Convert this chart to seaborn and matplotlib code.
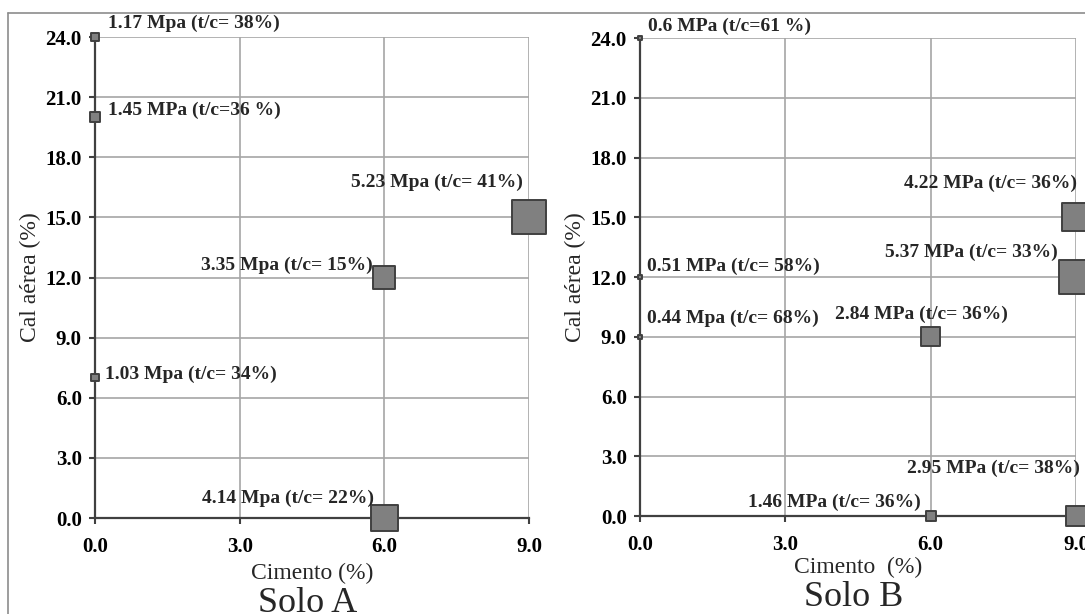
import matplotlib
matplotlib.use("Agg")
import matplotlib.pyplot as plt
import seaborn as sns
import pandas as pd
from matplotlib.lines import Line2D

# ---------------- data ----------------
x_ticks = [0, 3, 6, 9]
y_ticks = [0, 3, 6, 9, 12, 15, 18, 21, 24]

solo_a_cimento = [0, 0, 0, 6, 6, 9]
solo_a_cal = [24, 20, 7, 12, 0, 15]
solo_a_mpa = [1.17, 1.45, 1.03, 3.35, 4.14, 5.23]
solo_a_labels = ["1.17 Mpa (t/c= 38%)", "1.45 MPa (t/c=36 %)", "1.03 Mpa (t/c= 34%)",
                 "3.35 Mpa (t/c= 15%)", "4.14 Mpa (t/c= 22%)", "5.23 Mpa (t/c= 41%)"]

solo_b_cimento = [0, 0, 0, 6, 6, 9, 9, 9]
solo_b_cal = [24, 12, 9, 9, 0, 0, 15, 12]
solo_b_mpa = [0.6, 0.51, 0.44, 2.84, 1.46, 2.95, 4.22, 5.37]
solo_b_labels = ["0.6 MPa (t/c=61 %)", "0.51 MPa (t/c= 58%)", "0.44 Mpa (t/c= 68%)",
                 "2.84 MPa (t/c= 36%)", "1.46 MPa (t/c= 36%)", "2.95 MPa (t/c= 38%)",
                 "4.22 MPa (t/c= 36%)", "5.37 MPa (t/c= 33%)"]

x_label = "Cimento (%)"
x_label_b = "Cimento  (%)"
y_label = "Cal aérea (%)"
titles = ["Solo A", "Solo B"]

# ---------------- layout / style ----------------
# label offsets in pixels (dx, dy, ha)
offs_a = [(13, 14, "left"), (13, 7, "left"), (10, 3, "left"),
          (-12, 12, "right"), (-10, 20, "right"), (-6, 35, "right")]
offs_b = [(8, 12, "left"), (7, 11, "left"), (7, 18, "left"),
          (-9, 22, "center"), (-10, 14, "right"), (4, 48, "right"),
          (1, 34, "right"), (-18, 25, "right")]

sns.set_theme(style="white")
plt.rcParams["font.family"] = ["Liberation Serif", "DejaVu Serif"]

W, H = 1085, 614
fig = plt.figure(figsize=(W / 100, H / 100), dpi=100)

def px_rect(x0, x9, y0, y24):
    return [x0 / W, (H - y0) / H, (x9 - x0) / W, (y0 - y24) / H]

ax_a = fig.add_axes(px_rect(95, 529, 518, 37))
ax_b = fig.add_axes(px_rect(640, 1076, 516, 38))

K = 4.55      # marker side (pt) per MPa
K0 = 0.6      # side offset (pt)
EDGE_LW = 1.4
grid_c = "#a6a6a6"
axis_c = "#404040"

def panel(ax, xs, ys, mpa, labels, offs, xlab, title, xlab_y):
    df = pd.DataFrame({"x": xs, "y": ys, "mpa": mpa})
    sizes = {v: (K * v + K0) ** 2 for v in mpa}
    sns.scatterplot(data=df, x="x", y="y", size="mpa", sizes=sizes, marker="s",
                    color="#808080", edgecolor=axis_c, linewidth=EDGE_LW,
                    legend=False, ax=ax, clip_on=False, zorder=5)
    ax.set_xlim(0, 9)
    ax.set_ylim(0, 24)
    ax.set_xticks(x_ticks)
    ax.set_xticklabels([f"{v:.1f}" for v in x_ticks], fontweight="bold", fontsize=15)
    ax.set_yticks(y_ticks)
    ax.set_yticklabels([f"{v:.1f}" for v in y_ticks], fontweight="bold", fontsize=15)
    ax.grid(True, color=grid_c, lw=1.2)
    ax.set_axisbelow(True)
    for s in ["top", "right"]:
        ax.spines[s].set_visible(False)
    for s in ["left", "bottom"]:
        ax.spines[s].set_color(axis_c)
        ax.spines[s].set_linewidth(1.6)
        ax.spines[s].set_zorder(3)
    ax.tick_params(axis="both", direction="out", length=4.5, width=1.5, color=axis_c,
                   labelcolor="black", left=True, bottom=True)
    ax.tick_params(axis="y", pad=5)
    ax.tick_params(axis="x", pad=9)
    ax.set_xlabel("")
    ax.set_ylabel(y_label, fontsize=17, labelpad=3)
    ax.set_facecolor("white")
    for x, y, lab, (dx, dy, ha) in zip(xs, ys, labels, offs):
        ax.annotate(lab, (x, y), xytext=(dx, dy), textcoords="offset pixels",
                    ha=ha, va="center", fontsize=14, fontweight="bold",
                    annotation_clip=False, zorder=6)
    ax.text(0.5, xlab_y, xlab, transform=ax.transAxes, ha="center", va="center",
            fontsize=17)
    ax.text(0.49, xlab_y - 0.062, title, transform=ax.transAxes, ha="center",
            va="center", fontsize=26)

panel(ax_a, solo_a_cimento, solo_a_cal, solo_a_mpa, solo_a_labels, offs_a,
      x_label, titles[0], -0.115)
panel(ax_b, solo_b_cimento, solo_b_cal, solo_b_mpa, solo_b_labels, offs_b,
      x_label_b, titles[1], -0.108)

# outer frame of the original chart
fig.add_artist(Line2D([8 / W, 1], [1 - 13 / H, 1 - 13 / H], transform=fig.transFigure,
                      color="#8c8c8c", lw=1.2))
fig.add_artist(Line2D([8 / W, 8 / W], [0, 1 - 13 / H], transform=fig.transFigure,
                      color="#8c8c8c", lw=1.2))

fig.savefig("out.png", dpi=100, facecolor="white")
